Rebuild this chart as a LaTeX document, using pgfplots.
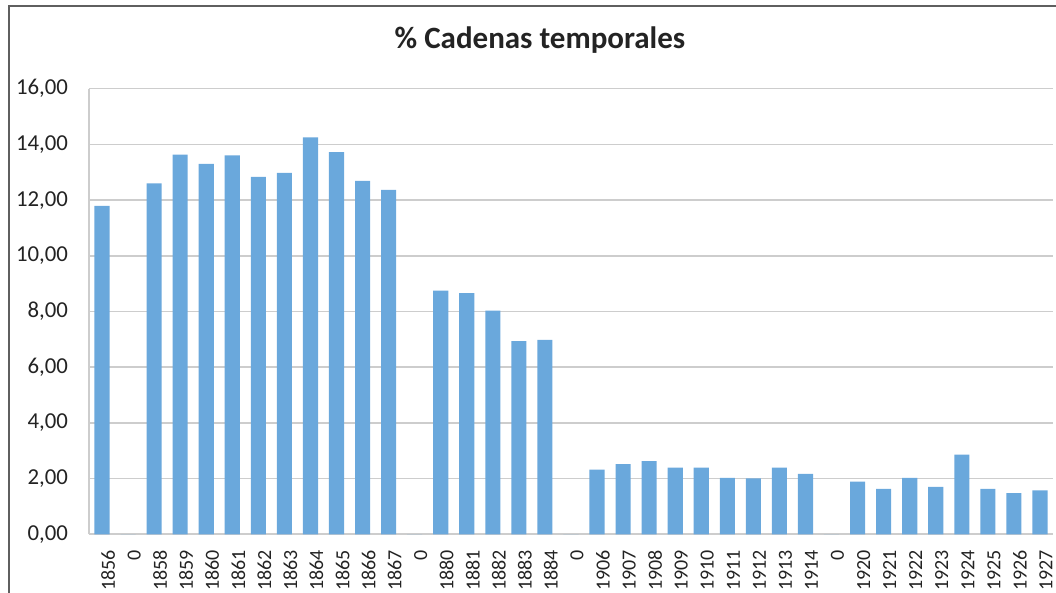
\documentclass[border=0pt]{standalone}
\usepackage{fontspec}
\setmainfont{Carlito}
\usepackage{pgfplots}
\usepackage{pgfplotstable}
\pgfplotsset{compat=1.18}

\definecolor{barblue}{RGB}{106,168,220}
\definecolor{gridgray}{RGB}{205,205,205}
\definecolor{framegray}{RGB}{95,95,95}
\definecolor{labelgray}{RGB}{35,35,35}

% position, value (the "0" categories are empty)
\pgfplotstableread{
x  y
0  11.79
1  0
2  12.60
3  13.63
4  13.30
5  13.61
6  12.83
7  12.98
8  14.25
9  13.72
10 12.69
11 12.37
12 0
13 8.75
14 8.66
15 8.03
16 6.94
17 6.98
18 0
19 2.32
20 2.52
21 2.63
22 2.39
23 2.39
24 2.03
25 2.01
26 2.39
27 2.17
28 0
29 1.89
30 1.63
31 2.03
32 1.70
33 2.86
34 1.63
35 1.48
36 1.58
}\cadenas

\begin{document}
\begin{tikzpicture}
\useasboundingbox (0,0) rectangle (528pt,296.5pt);
\draw[framegray, line width=0.8pt] (4.5pt,0) -- (4.5pt,293.5pt) -- (528pt,293.5pt);
\node[font=\bfseries\fontsize{15.5}{18}\selectfont, text=labelgray] at (270pt,276.5pt) {\% Cadenas temporales};
\begin{axis}[
    at={(44.5pt,29.35pt)}, anchor=south west,
    scale only axis,
    width=482pt, height=222.8pt,
    ybar, bar width=0.58,
    xmin=-0.5, xmax=36.5,
    ymin=0, ymax=16,
    ytick={0,2,...,16},
    xtick=data,
    xticklabels={1856,0,1858,1859,1860,1861,1862,1863,1864,1865,1866,1867,0,1880,1881,1882,1883,1884,0,1906,1907,1908,1909,1910,1911,1912,1913,1914,0,1920,1921,1922,1923,1924,1925,1926,1927},
    x tick label style={rotate=90, anchor=east, font=\fontsize{10}{11}\selectfont, text=labelgray, yshift=-3pt},
    y tick label style={font=\fontsize{11.4}{13}\selectfont, text=labelgray, xshift=-7pt},
    /pgf/number format/.cd, fixed, fixed zerofill, precision=2, use comma, assume math mode=true,
    /pgfplots/.cd,
    axis x line*=bottom, axis y line*=left,
    axis line style={gridgray, line width=0.8pt, -},
    ymajorgrids,
    major grid style={gridgray, line width=0.8pt},
    tick style={draw=none},
]
\addplot[fill=barblue, draw=none] table[x=x, y=y] {\cadenas};
\end{axis}
\end{tikzpicture}
\end{document}
